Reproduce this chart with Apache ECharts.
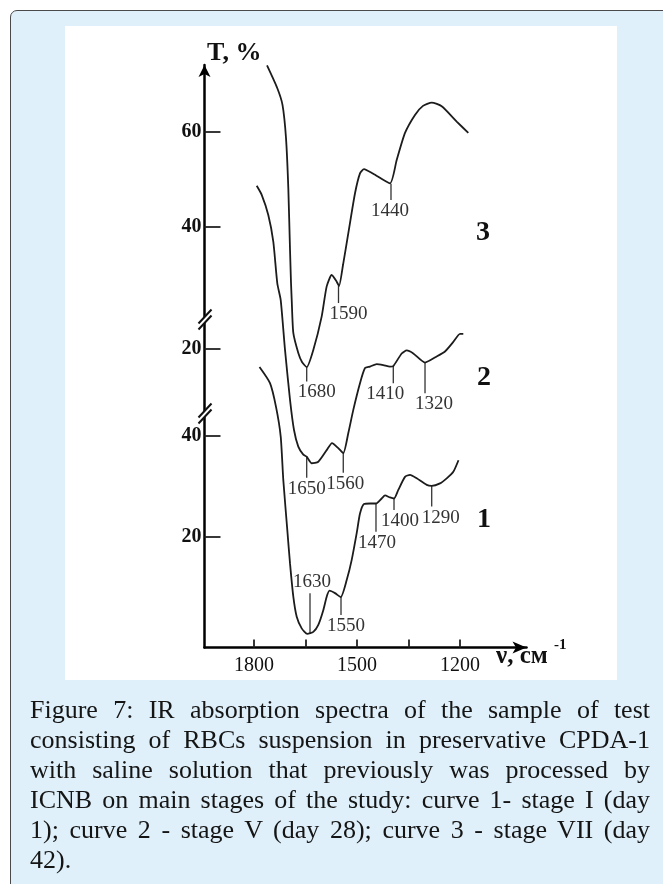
<!DOCTYPE html>
<html><head><meta charset="utf-8">
<script src="https://cdn.jsdelivr.net/npm/echarts@6/dist/echarts.min.js"></script>
<style>
html,body{margin:0;padding:0;background:#fff;width:663px;height:884px;overflow:hidden;}
#frame{position:absolute;left:10px;top:10px;width:720px;height:940px;background:#dff0fa;border:1px solid #4a4a4a;border-radius:7px;box-sizing:border-box;}
#plotbg{position:absolute;left:65px;top:26px;width:552px;height:654px;background:#fff;}
#chart{position:absolute;left:0;top:0;width:663px;height:884px;}
#caption{position:absolute;left:30px;top:695px;width:620px;font-family:'Liberation Serif',serif;font-size:26px;line-height:30px;color:#151515;}
#caption div{text-align:justify;text-align-last:justify;white-space:nowrap;}
#caption div.last{text-align-last:left;}
</style></head>
<body>
<div id="frame"></div>
<div id="plotbg"></div>
<div id="chart"></div>
<div id="caption">
<div>Figure 7: IR absorption spectra of the sample of test</div>
<div>consisting of RBCs suspension in preservative CPDA-1</div>
<div>with saline solution that previously was processed by</div>
<div>ICNB on main stages of the study: curve 1- stage I (day</div>
<div>1); curve 2 - stage V (day 28); curve 3 - stage VII (day</div>
<div class="last">42).</div>
</div>
<script>
// ---- data (wavenumber, cm-1 ; transmittance, %) ----
const curve1X = [1784.0,1753.4,1735.9,1722.2,1714.7,1703.0,1695.1,1685.5,1675.6,1661.1,1644.8,1627.3,1612.7,1598.2,1588.3,1580.1,1564.1,1547.5,1530.0,1515.4,1500.9,1491.3,1479.6,1462.1,1444.7,1428.1,1418.4,1403.9,1392.2,1379.7,1360.2,1345.6,1326.1,1297.0,1282.4,1258.3,1238.7,1219.5,1204.4];
const curve1T = [53.7,50.5,45.8,39.9,31.3,21.3,14.7,8.1,4.1,1.8,0.7,1.1,2.5,5.4,8.1,9.3,8.8,8.0,11.4,15.4,20.7,24.6,26.5,26.6,26.6,27.6,28.2,27.8,27.6,29.3,31.9,32.3,31.6,30.3,30.1,30.6,31.6,32.9,35.2];

const curve2X = [1792.1,1777.6,1758.4,1743.8,1732.1,1722.2,1709.7,1695.1,1683.5,1671.0,1656.4,1646.5,1631.9,1612.7,1588.3,1572.8,1554.5,1540.0,1525.3,1510.8,1491.3,1476.7,1462.1,1442.6,1423.4,1403.9,1394.3,1369.8,1355.2,1336.0,1301.9,1267.9,1243.7,1219.5,1200.0,1190.4];
const curve2T = [52.4,50.6,46.6,41.3,33.0,29.7,19.8,9.9,3.9,0.6,-1.0,-1.4,-2.7,-2.4,-0.1,1.3,0.3,-0.7,3.3,7.9,13.2,16.2,16.5,17.0,16.8,16.5,16.6,19.1,19.7,19.1,17.3,18.5,19.5,21.4,23.0,23.0];

const curve3X = [1762.1,1732.1,1717.0,1706.8,1700.1,1695.1,1692.2,1690.2,1685.5,1671.0,1660.2,1646.5,1627.3,1602.8,1588.3,1573.7,1559.1,1552.4,1540.8,1525.3,1505.8,1491.3,1479.6,1452.5,1403.9,1384.4,1360.2,1331.1,1307.8,1282.4,1253.3,1209.6,1175.8];
const curve3T = [73.9,69.1,65.6,58.6,48.1,35.1,28.1,24.6,17.6,13.4,11.5,10.4,14.0,21.1,27.4,29.8,28.4,27.5,31.9,38.6,47.0,51.2,52.1,51.1,49.1,54.0,59.7,63.5,65.4,66.1,65.3,62.1,59.7];

// band annotations: label, position, curve value, end of marker line
const bands1 = [1630,1550,1470,1400,1290];
const bands1X = [1636.9,1546.6,1444.7,1392.2,1282.4];
const bands1From = [0.8,8.0,26.6,27.6,30.1];
const bands1To = [8.8,4.45,21.0,25.3,26.0];

const bands2 = [1650,1560,1410,1320];
const bands2X = [1646.5,1540.0,1394.3,1301.9];
const bands2From = [-1.4,-0.7,16.6,17.3];
const bands2To = [-5.6,-4.6,13.2,11.2];

const bands3 = [1680,1590,1440];
const bands3X = [1646.5,1553.9,1401.0];
const bands3From = [10.4,27.5,49.0];
const bands3To = [7.4,23.9,45.6];

// axis ticks / labels
const xTickValues = [1800,1650,1500,1350,1200];
const xLabelValues = [1800,1500,1200];
const yLabels1 = [20,40];
const yLabels2 = [20];
const yLabels3 = [40,60];
const curveNames = ['1','2','3'];

// ---- styling ----
const labelShift1 = [2,5,1,6,9];
const labelShift2 = [0,2,-8,9];
const labelShift3 = [10,10,-1];

function zip(a,b){return a.map((v,i)=>[v,b[i]]);}
function zipBands(x,f,t,l){return x.map((v,i)=>[v,f[i],t[i],l[i]]);}

function yAxisCfg(min,max,values,showLine){
  return {
    type:'value', position:'left', offset:0, min:min, max:max,
    splitLine:{show:false},
    axisLine:{show:showLine, onZero:false, symbol:['none','arrow'], symbolSize:[9,12], lineStyle:{color:'#000',width:2.5}},
    axisTick:{show:true, inside:true, length:16, customValues:values, lineStyle:{color:'#222',width:1.8}},
    axisLabel:{show:true, customValues:values, margin:3, color:'#111', fontFamily:'Liberation Serif', fontWeight:'bold', fontSize:20, formatter:v=>String(v)}
  };
}

function bandSeries(data, yIdx, shifts){
  return {
    type:'custom', xAxisIndex:0, yAxisIndex:yIdx, clip:false, silent:true,
    data:data,
    renderItem:function(params, api){
      const p0 = api.coord([api.value(0), api.value(1)]);
      const p1 = api.coord([api.value(0), api.value(2)]);
      const up = p1[1] < p0[1];
      const dx = shifts[params.dataIndex];
      return {type:'group', children:[
        {type:'line', shape:{x1:p0[0],y1:p0[1],x2:p1[0],y2:p1[1]}, style:{stroke:'#333',lineWidth:1.3}},
        {type:'text', style:{text:String(api.value(3)), x:p1[0]+dx, y:p1[1]+(up?-11:11), align:'center', verticalAlign:'middle', fontSize:19, fontFamily:'Liberation Serif', fill:'#333'}}
      ]};
    }
  };
}

const lineStyle = {color:'#1c1c1c', width:1.8};
const chart = echarts.init(document.getElementById('chart'), null, {renderer:'canvas'});
chart.setOption({
  animation:false,
  backgroundColor:'transparent',
  grid:{left:204.5, top:65, width:322, height:582.5, containLabel:false, outerBoundsMode:'none'},
  xAxis:{
    type:'value', inverse:true, min:1006.3, max:1944.2,
    splitLine:{show:false},
    axisLine:{show:true, onZero:false, symbol:['none','arrow'], symbolSize:[9,14], lineStyle:{color:'#000',width:2.5}},
    axisTick:{show:true, inside:true, length:8, customValues:xTickValues, lineStyle:{color:'#222',width:1.8}},
    axisLabel:{show:true, customValues:xLabelValues, margin:8, color:'#111', fontFamily:'Liberation Serif', fontSize:20, formatter:v=>String(v)}
  },
  yAxis:[
    yAxisCfg(-2.0,113.7,yLabels1,true),
    yAxisCfg(-39.3,76.4,yLabels2,false),
    yAxisCfg(-48.6,74.0,yLabels3,false)
  ],
  series:[
    {type:'line', name:curveNames[0], yAxisIndex:0, data:zip(curve1X,curve1T), showSymbol:false, smooth:0.2, lineStyle:lineStyle, silent:true},
    {type:'line', name:curveNames[1], yAxisIndex:1, data:zip(curve2X,curve2T), showSymbol:false, smooth:0.2, lineStyle:lineStyle, silent:true},
    {type:'line', name:curveNames[2], yAxisIndex:2, data:zip(curve3X,curve3T), showSymbol:false, smooth:0.2, lineStyle:lineStyle, silent:true},
    bandSeries(zipBands(bands1X,bands1From,bands1To,bands1),0,labelShift1),
    bandSeries(zipBands(bands2X,bands2From,bands2To,bands2),1,labelShift2),
    bandSeries(zipBands(bands3X,bands3From,bands3To,bands3),2,labelShift3)
  ],
  graphic:[
    {type:'text', z:100, left:207, top:40, style:{text:'T, %', fontFamily:'Liberation Serif', fontWeight:'bold', fontSize:26, fill:'#111'}},
    {type:'text', z:100, left:496, top:644, style:{text:'ν, см', fontFamily:'Liberation Serif', fontWeight:'bold', fontSize:25, fill:'#111'}},
    {type:'text', z:100, left:554, top:638, style:{text:'-1', fontFamily:'Liberation Serif', fontWeight:'bold', fontSize:15, fill:'#111'}},
    {type:'text', z:100, x:484, y:520, style:{text:curveNames[0], align:'center', verticalAlign:'middle', fontFamily:'Liberation Serif', fontWeight:'bold', fontSize:28, fill:'#111'}},
    {type:'text', z:100, x:484, y:378, style:{text:curveNames[1], align:'center', verticalAlign:'middle', fontFamily:'Liberation Serif', fontWeight:'bold', fontSize:28, fill:'#111'}},
    {type:'text', z:100, x:483, y:233, style:{text:curveNames[2], align:'center', verticalAlign:'middle', fontFamily:'Liberation Serif', fontWeight:'bold', fontSize:28, fill:'#111'}},
    {type:'polygon', z:99, shape:{points:[[199,323],[211,310],[211,316],[199,329]]}, style:{fill:'#fff'}},
    {type:'line', z:100, shape:{x1:198.5,y1:323.5,x2:211.5,y2:309.5}, style:{stroke:'#111',lineWidth:2}},
    {type:'line', z:100, shape:{x1:198.5,y1:329.5,x2:211.5,y2:315.5}, style:{stroke:'#111',lineWidth:2}},
    {type:'polygon', z:99, shape:{points:[[199,417],[211,404],[211,410],[199,423]]}, style:{fill:'#fff'}},
    {type:'line', z:100, shape:{x1:198.5,y1:417.5,x2:211.5,y2:403.5}, style:{stroke:'#111',lineWidth:2}},
    {type:'line', z:100, shape:{x1:198.5,y1:423.5,x2:211.5,y2:409.5}, style:{stroke:'#111',lineWidth:2}}
  ]
});
</script>
</body></html>
